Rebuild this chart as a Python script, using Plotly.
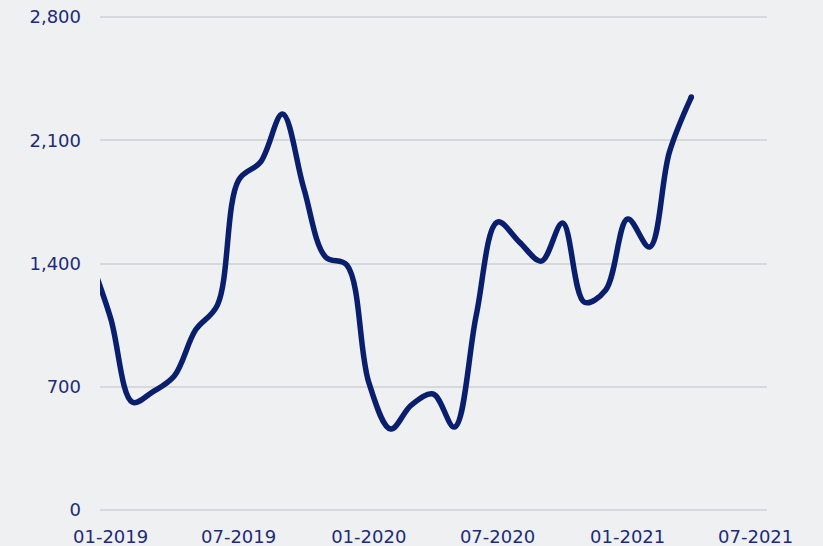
import plotly.graph_objects as go

months = ["2018-12-01", "2019-01-01", "2019-02-01", "2019-03-01", "2019-04-01", "2019-05-01",
          "2019-06-01", "2019-07-01", "2019-08-01", "2019-09-01", "2019-10-01", "2019-11-01",
          "2019-12-01", "2020-01-01", "2020-02-01", "2020-03-01", "2020-04-01", "2020-05-01",
          "2020-06-01", "2020-07-01", "2020-08-01", "2020-09-01", "2020-10-01", "2020-11-01",
          "2020-12-01", "2021-01-01", "2021-02-01", "2021-03-01", "2021-04-01"]
values = [1450, 1090, 612, 670, 761, 1022,
          1164, 1874, 1977, 2249, 1829, 1437,
          1392, 725, 460, 596, 659, 471,
          1108, 1636, 1522, 1414, 1630, 1180,
          1250, 1653, 1494, 2033, 2346]

y_ticks = [0, 700, 1400, 2100, 2800]

navy = "#0a1e6e"
text_col = "#1c2c78"
bg = "#eff0f2"
lw = 5.5

fig = go.Figure(go.Scatter(
    x=months, y=values, mode="lines",
    line=dict(color=navy, width=lw, shape="spline"),
    hoverinfo="x+y"))
# round end cap of the line
fig.add_trace(go.Scatter(
    x=[months[-1]], y=[values[-1]], mode="markers",
    marker=dict(color=navy, size=lw, line=dict(width=0)),
    hoverinfo="skip"))

fig.update_layout(
    width=823, height=546,
    margin=dict(l=100, r=56, t=15, b=36, autoexpand=False),
    paper_bgcolor=bg, plot_bgcolor=bg,
    showlegend=False,
    font=dict(family="DejaVu Sans", size=18, color=text_col),
)
fig.update_xaxes(
    type="date", range=["2018-12-17", "2021-07-17"],
    tick0="2019-01-01", dtick="M6", tickformat="%m-%Y",
    showgrid=False, zeroline=False, showline=False, ticks="",
    ticklabelstandoff=14, automargin=False, ticklabeloverflow="allow",
    tickfont=dict(size=18, color=text_col),
)
fig.update_yaxes(
    range=[0, 2812], tickvals=y_ticks, tickformat=",d",
    showgrid=True, gridcolor="#d7d8db", gridwidth=1.5,
    zeroline=True, zerolinecolor="#d7d8db", zerolinewidth=1.5,
    showline=False, ticks="", ticklabelstandoff=18, automargin=False,
    ticklabeloverflow="allow",
    tickfont=dict(size=18, color=text_col),
)

fig.write_html(
    "out.html",
    config={"displayModeBar": False},
    post_script="document.body.style.margin='0';document.body.style.background='%s';" % bg,
)
